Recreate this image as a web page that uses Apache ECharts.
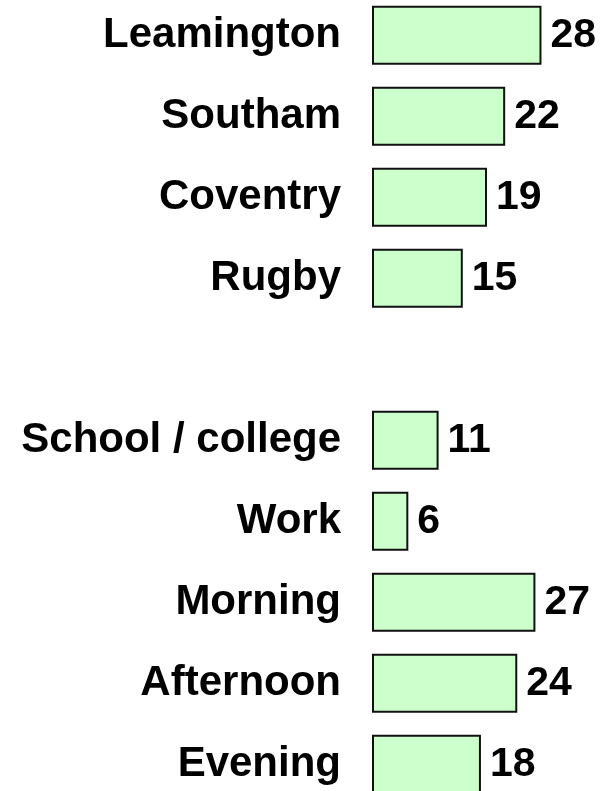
<!DOCTYPE html>
<html>
<head>
<meta charset="utf-8">
<script src="https://cdn.jsdelivr.net/npm/echarts@6/dist/echarts.min.js"></script>
<style>
  html, body { margin: 0; padding: 0; background: #fff; }
  #chart { width: 605px; height: 791px; }
</style>
</head>
<body>
<div id="chart"></div>
<script>
// Responses by town and by time of day; the blank entry separates the two groups
const categories = ['Leamington', 'Southam', 'Coventry', 'Rugby', '', 'School / college', 'Work', 'Morning', 'Afternoon', 'Evening'];
const counts = [28, 22, 19, 15, null, 11, 6, 27, 24, 18];

const chart = echarts.init(document.getElementById('chart'), null, { renderer: 'canvas' });

chart.setOption({
  animation: false,
  backgroundColor: '#ffffff',
  grid: {
    left: 372, top: -5.2, width: 230, height: 810,
    containLabel: false, outerBoundsMode: 'none'
  },
  xAxis: {
    type: 'value', min: 0, max: 38,
    axisLine: { show: false }, axisTick: { show: false },
    axisLabel: { show: false }, splitLine: { show: false }
  },
  yAxis: {
    type: 'category', data: categories, inverse: true,
    axisLine: { show: false }, axisTick: { show: false },
    axisLabel: {
      margin: 31, color: '#000', fontSize: 42, fontWeight: 'bold',
      fontFamily: 'Liberation Sans, Arial, sans-serif'
    }
  },
  series: [{
    type: 'bar',
    data: counts,
    barWidth: 59,
    itemStyle: { color: '#ccffcc', borderColor: '#111', borderWidth: 2 },
    label: {
      show: true, position: 'right', distance: 9,
      color: '#000', fontSize: 41, fontWeight: 'bold',
      fontFamily: 'Liberation Sans, Arial, sans-serif'
    }
  }]
});
</script>
</body>
</html>
